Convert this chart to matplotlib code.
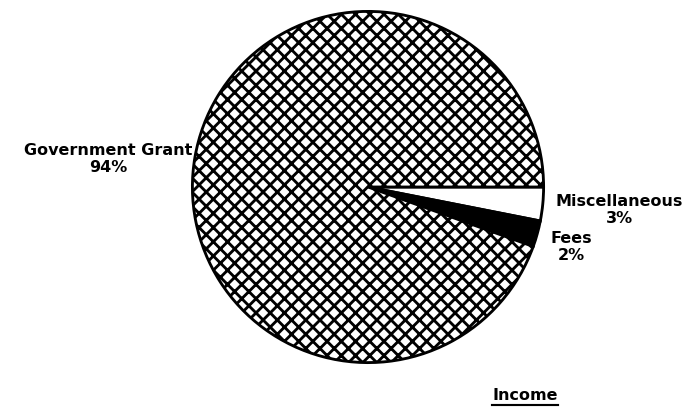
import matplotlib
matplotlib.use("Agg")
import matplotlib.pyplot as plt
from matplotlib.lines import Line2D

categories = ["Government Grant", "Miscellaneous", "Fees"]
values = [94.5, 3.1, 2.4]
pct_labels = ["94%", "3%", "2%"]
title = "Income"

DPI = 128
W, H = 696, 418
plt.rcParams['hatch.linewidth'] = 1.6
plt.rcParams['font.family'] = ['DejaVu Sans']

fig = plt.figure(figsize=(W / DPI, H / DPI), dpi=DPI)
cx, cy, r = 368, 187, 177
ax = fig.add_axes([(cx - r) / W, (H - cy - r) / H, 2 * r / W, 2 * r / H])
ax.axis('off')

order = [1, 2, 0]
vals = [values[i] for i in order]
wedges, _ = ax.pie(vals, startangle=0, counterclock=False, radius=1,
                   colors=['white', 'black', 'white'],
                   wedgeprops=dict(edgecolor='black', linewidth=1.6))
wedges[2].set_hatch('xxx')
ax.set_xlim(-1.008, 1.008)
ax.set_ylim(-1.008, 1.008)
ax.set_aspect('equal')

fs = 16 * 72 / DPI
def ptext(x, y, s, **kw):
    return fig.text(x / W, 1 - y / H, s, ha='center', va='center',
                    fontsize=fs, fontweight='bold', linespacing=1.15, **kw)

ptext(108, 159, categories[0] + "\n" + pct_labels[0])
ptext(619, 210, categories[1] + "\n" + pct_labels[1])
ptext(571, 247, categories[2] + "\n" + pct_labels[2])

t = ptext(525, 396, title)
fig.canvas.draw()
bb = t.get_window_extent()
y_line = bb.y0 - 1
fig.add_artist(Line2D([bb.x0 / fig.bbox.width, bb.x1 / fig.bbox.width],
                      [y_line / fig.bbox.height] * 2, color='black', linewidth=1.2,
                      transform=fig.transFigure))

fig.savefig("out.png", dpi=DPI)
